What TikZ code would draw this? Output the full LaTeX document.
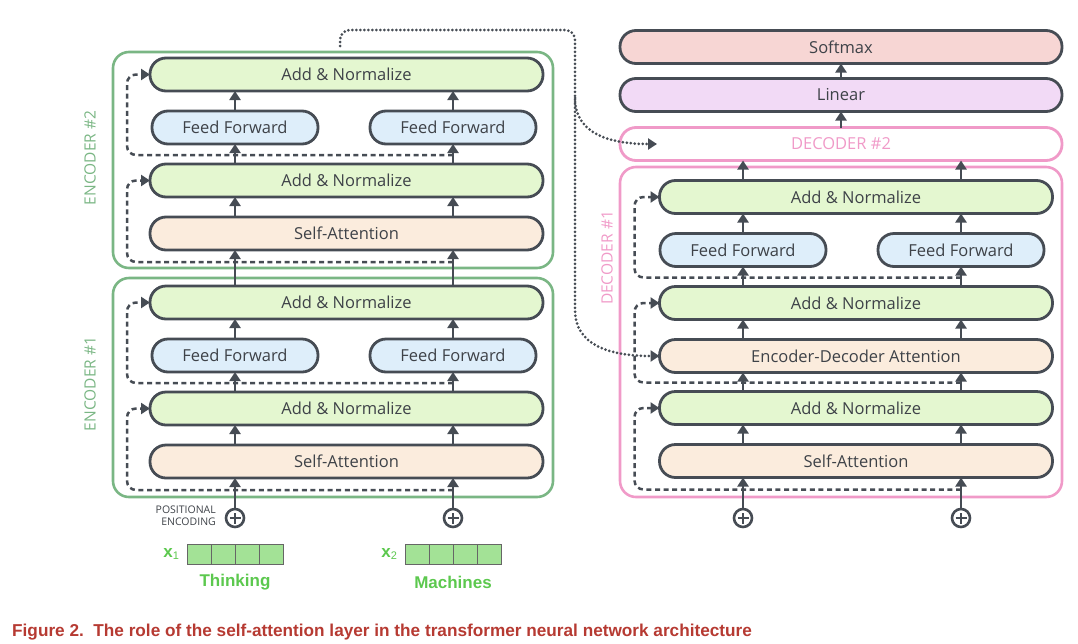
\documentclass[tikz,border=0pt]{standalone}
\usepackage{fontspec}
\setmainfont{Open Sans}
\newfontfamily\wordfont{Liberation Sans}
\usetikzlibrary{arrows.meta,positioning,calc}
\definecolor{BoxLine}{RGB}{70,76,84}
\definecolor{BoxText}{RGB}{62,66,72}
\definecolor{NormGreen}{RGB}{228,247,208}
\definecolor{FeedBlue}{RGB}{222,238,250}
\definecolor{AttnPeach}{RGB}{251,236,221}
\definecolor{SoftRed}{RGB}{247,214,212}
\definecolor{LinViolet}{RGB}{242,218,246}
\definecolor{EncGreen}{RGB}{122,182,132}
\definecolor{DecPink}{RGB}{240,154,200}
\definecolor{WordGreen}{RGB}{92,200,78}
\definecolor{CellGreen}{RGB}{163,226,150}
\definecolor{CapRed}{RGB}{182,58,50}

\begin{document}
\begin{tikzpicture}[x=1pt, y=-1pt,
    layer/.style={draw=BoxLine, line width=2.8pt, rounded corners=16pt, minimum height=33pt, inner sep=0pt, outer sep=0pt, text=BoxText, font=\fontsize{16.5}{16.5}\selectfont},
    norm/.style={layer, fill=NormGreen, minimum width=393pt},
    attn/.style={layer, fill=AttnPeach, minimum width=393pt},
    ffn/.style={layer, fill=FeedBlue, minimum width=166pt},
    head/.style={layer, minimum width=442pt},
    encframe/.style={draw=EncGreen, line width=2.6pt, rounded corners=16pt, minimum width=440pt},
    decframe/.style={draw=DecPink, line width=2.6pt, rounded corners=16pt},
    sidelabel/.style={rotate=90, font=\fontsize{15.5}{16}\selectfont},
    arr/.style={-{Triangle[length=9pt,width=11pt]}, line width=2.8pt, draw=BoxLine},
    res/.style={arr, line width=2.5pt, dash pattern=on 5pt off 3.6pt, rounded corners=9pt},
    link/.style={arr, line width=3pt, line cap=round, dash pattern=on 0pt off 4pt, rounded corners=10pt},
    plus/.style={circle, draw=BoxLine, line width=2.6pt, minimum size=18pt, inner sep=0pt, fill=white,
      path picture={\draw[BoxLine, line width=2.6pt]
        ([xshift=-5.5pt]path picture bounding box.center) -- ([xshift=5.5pt]path picture bounding box.center)
        ([yshift=-5.5pt]path picture bounding box.center) -- ([yshift=5.5pt]path picture bounding box.center);}},
    cell/.style={draw=gray!80!black, fill=CellGreen, line width=1pt, minimum width=24pt, minimum height=20pt, inner sep=0pt},
    word/.style={text=WordGreen, font=\wordfont\bfseries\fontsize{17}{17}\selectfont},
    posenc/.style={align=right, text=BoxText, font=\fontsize{10.5}{12}\selectfont, inner sep=0pt}
  ]
    \useasboundingbox (0,0) rectangle (1078,643);

    % arrow columns
    \coordinate (c1) at (235,0);
    \coordinate (c2) at (453,0);
    \coordinate (c3) at (743,0);
    \coordinate (c4) at (961,0);

    % frames
    \node[encframe, minimum height=216pt] (enc2) at (333,160) {};
    \node[encframe, minimum height=219pt] (enc1) at (333,387.5) {};
    \node[decframe, minimum width=442pt, minimum height=330pt] (dec1) at (841,332) {};
    \node[sidelabel, text=EncGreen] (enc2lab) at (90,158) {ENCODER \#2};
    \node[sidelabel, text=EncGreen] (enc1lab) at (90,384) {ENCODER \#1};
    \node[sidelabel, text=DecPink] (dec1lab) at (607,258) {DECODER \#1};

    % encoder #1
    \node[attn] (e1sa) at (346.5,461.5) {Self-Attention};
    \node[norm, above=20pt of e1sa] (e1an1) {Add \& Normalize};
    \node[ffn, anchor=south, yshift=20pt] (e1ffl) at (e1an1.north -| c1) {Feed Forward};
    \node[ffn, anchor=south, yshift=20pt] (e1ffr) at (e1an1.north -| c2) {Feed Forward};
    \node[norm, above=73pt of e1an1] (e1an2) {Add \& Normalize};

    % encoder #2
    \node[attn, above=36pt of e1an2] (e2sa) {Self-Attention};
    \node[norm, above=20pt of e2sa] (e2an1) {Add \& Normalize};
    \node[ffn, anchor=south, yshift=20pt] (e2ffl) at (e2an1.north -| c1) {Feed Forward};
    \node[ffn, anchor=south, yshift=20pt] (e2ffr) at (e2an1.north -| c2) {Feed Forward};
    \node[norm, above=73pt of e2an1] (e2an2) {Add \& Normalize};

    % decoder #1
    \node[attn] (d1sa) at (856,461) {Self-Attention};
    \node[norm, above=20pt of d1sa] (d1an1) {Add \& Normalize};
    \node[attn, above=19pt of d1an1] (d1eda) {Encoder-Decoder Attention};
    \node[norm, above=20pt of d1eda] (d1an2) {Add \& Normalize};
    \node[ffn, anchor=south, yshift=20pt] (d1ffl) at (d1an2.north -| c3) {Feed Forward};
    \node[ffn, anchor=south, yshift=20pt] (d1ffr) at (d1an2.north -| c4) {Feed Forward};
    \node[norm, above=73pt of d1an2] (d1an3) {Add \& Normalize};

    % decoder #2 and output head
    \node[head, draw=DecPink, text=DecPink, above=20pt of d1an3, xshift=-15pt] (d2) {DECODER \#2};
    \node[head, fill=LinViolet, above=16pt of d2] (lin) {Linear};
    \node[head, fill=SoftRed, above=15pt of lin] (soft) {Softmax};

    % inputs
    \foreach \n/\x in {1/235,2/453,3/743,4/961}
      \node[plus] (p\n) at (\x,518) {};
    \node[posenc, anchor=east] (pe) at (216,516) {POSITIONAL\\ENCODING};
    \foreach \i in {0,...,3} {
      \node[cell] (va\i) at ({199+24*\i},554) {};
      \node[cell] (vb\i) at ({417+24*\i},554) {};
    }
    \node[word, left=4pt of va0] (xa) {x\raisebox{-2pt}{\mdseries\fontsize{11}{11}\selectfont 1}};
    \node[word, left=4pt of vb0] (xb) {x\raisebox{-2pt}{\mdseries\fontsize{11}{11}\selectfont 2}};
    \node[word] (wa) at (235,582) {Thinking};
    \node[word] (wb) at (453,582) {Machines};

    % solid arrows
    \foreach \n/\s in {1/e1sa,2/e1sa,3/d1sa,4/d1sa}
      \draw[arr] (p\n.north) -- (\s.south -| p\n);
    \foreach \lo/\hi/\ca/\cb in {e1sa/e1an1/c1/c2, e1an2/e2sa/c1/c2, e2sa/e2an1/c1/c2,
        d1sa/d1an1/c3/c4, d1an1/d1eda/c3/c4, d1eda/d1an2/c3/c4, d1an3/d2/c3/c4} {
      \draw[arr] (\lo.north -| \ca) -- (\hi.south -| \ca);
      \draw[arr] (\lo.north -| \cb) -- (\hi.south -| \cb);
    }
    \foreach \an/\ff/\nx/\c in {e1an1/e1ffl/e1an2/c1, e1an1/e1ffr/e1an2/c2,
        e2an1/e2ffl/e2an2/c1, e2an1/e2ffr/e2an2/c2, d1an2/d1ffl/d1an3/c3, d1an2/d1ffr/d1an3/c4} {
      \draw[arr] (\an.north -| \c) -- (\ff.south);
      \draw[arr] (\ff.north) -- (\nx.south -| \c);
    }
    \draw[arr] (d2) -- (lin);
    \draw[arr] (lin) -- (soft);

    % residual connections
    \foreach \s/\t/\c/\dx in {e1sa/e1an1/c2/23, e2sa/e2an1/c2/23, d1sa/d1an1/c4/25}
      \draw[res] ($(\s.south -| \c)+(0,12)$) -| ($(\t.west)+(-\dx,0)$) -- (\t.west);
    \foreach \a/\t/\c/\dx in {e1an1/e1an2/c2/23, e2an1/e2an2/c2/23, d1an1/d1an2/c4/25, d1an2/d1an3/c4/25}
      \draw[res] ($(\a.north -| \c)+(0,-9)$) -| ($(\t.west)+(-\dx,0)$) -- (\t.west);

    % encoder output to decoders
    \coordinate (lk0) at (340,46);
    \coordinate (lk1) at (575,30);
    \coordinate (lk2) at (575,300);
    \coordinate (lk3) at (575,98);
    \coordinate (d2in) at ($(d2.west)+(37,0)$);
    \draw[link] (lk0) |- (lk1) -- (lk2) .. controls (575,345) and ($(d1eda.west)+(-50,0)$) .. (d1eda.west);
    \draw[link] (lk3) .. controls (575,135) and ($(d2in)+(-45,0)$) .. (d2in);

    \node[anchor=base west, inner sep=0pt, text=CapRed, font=\wordfont\bfseries\fontsize{17.2}{18}\selectfont] (caption) at (12,636)
      {Figure 2.\ \ The role of the self-attention layer in the transformer neural network architecture};
  \end{tikzpicture}
\end{document}
